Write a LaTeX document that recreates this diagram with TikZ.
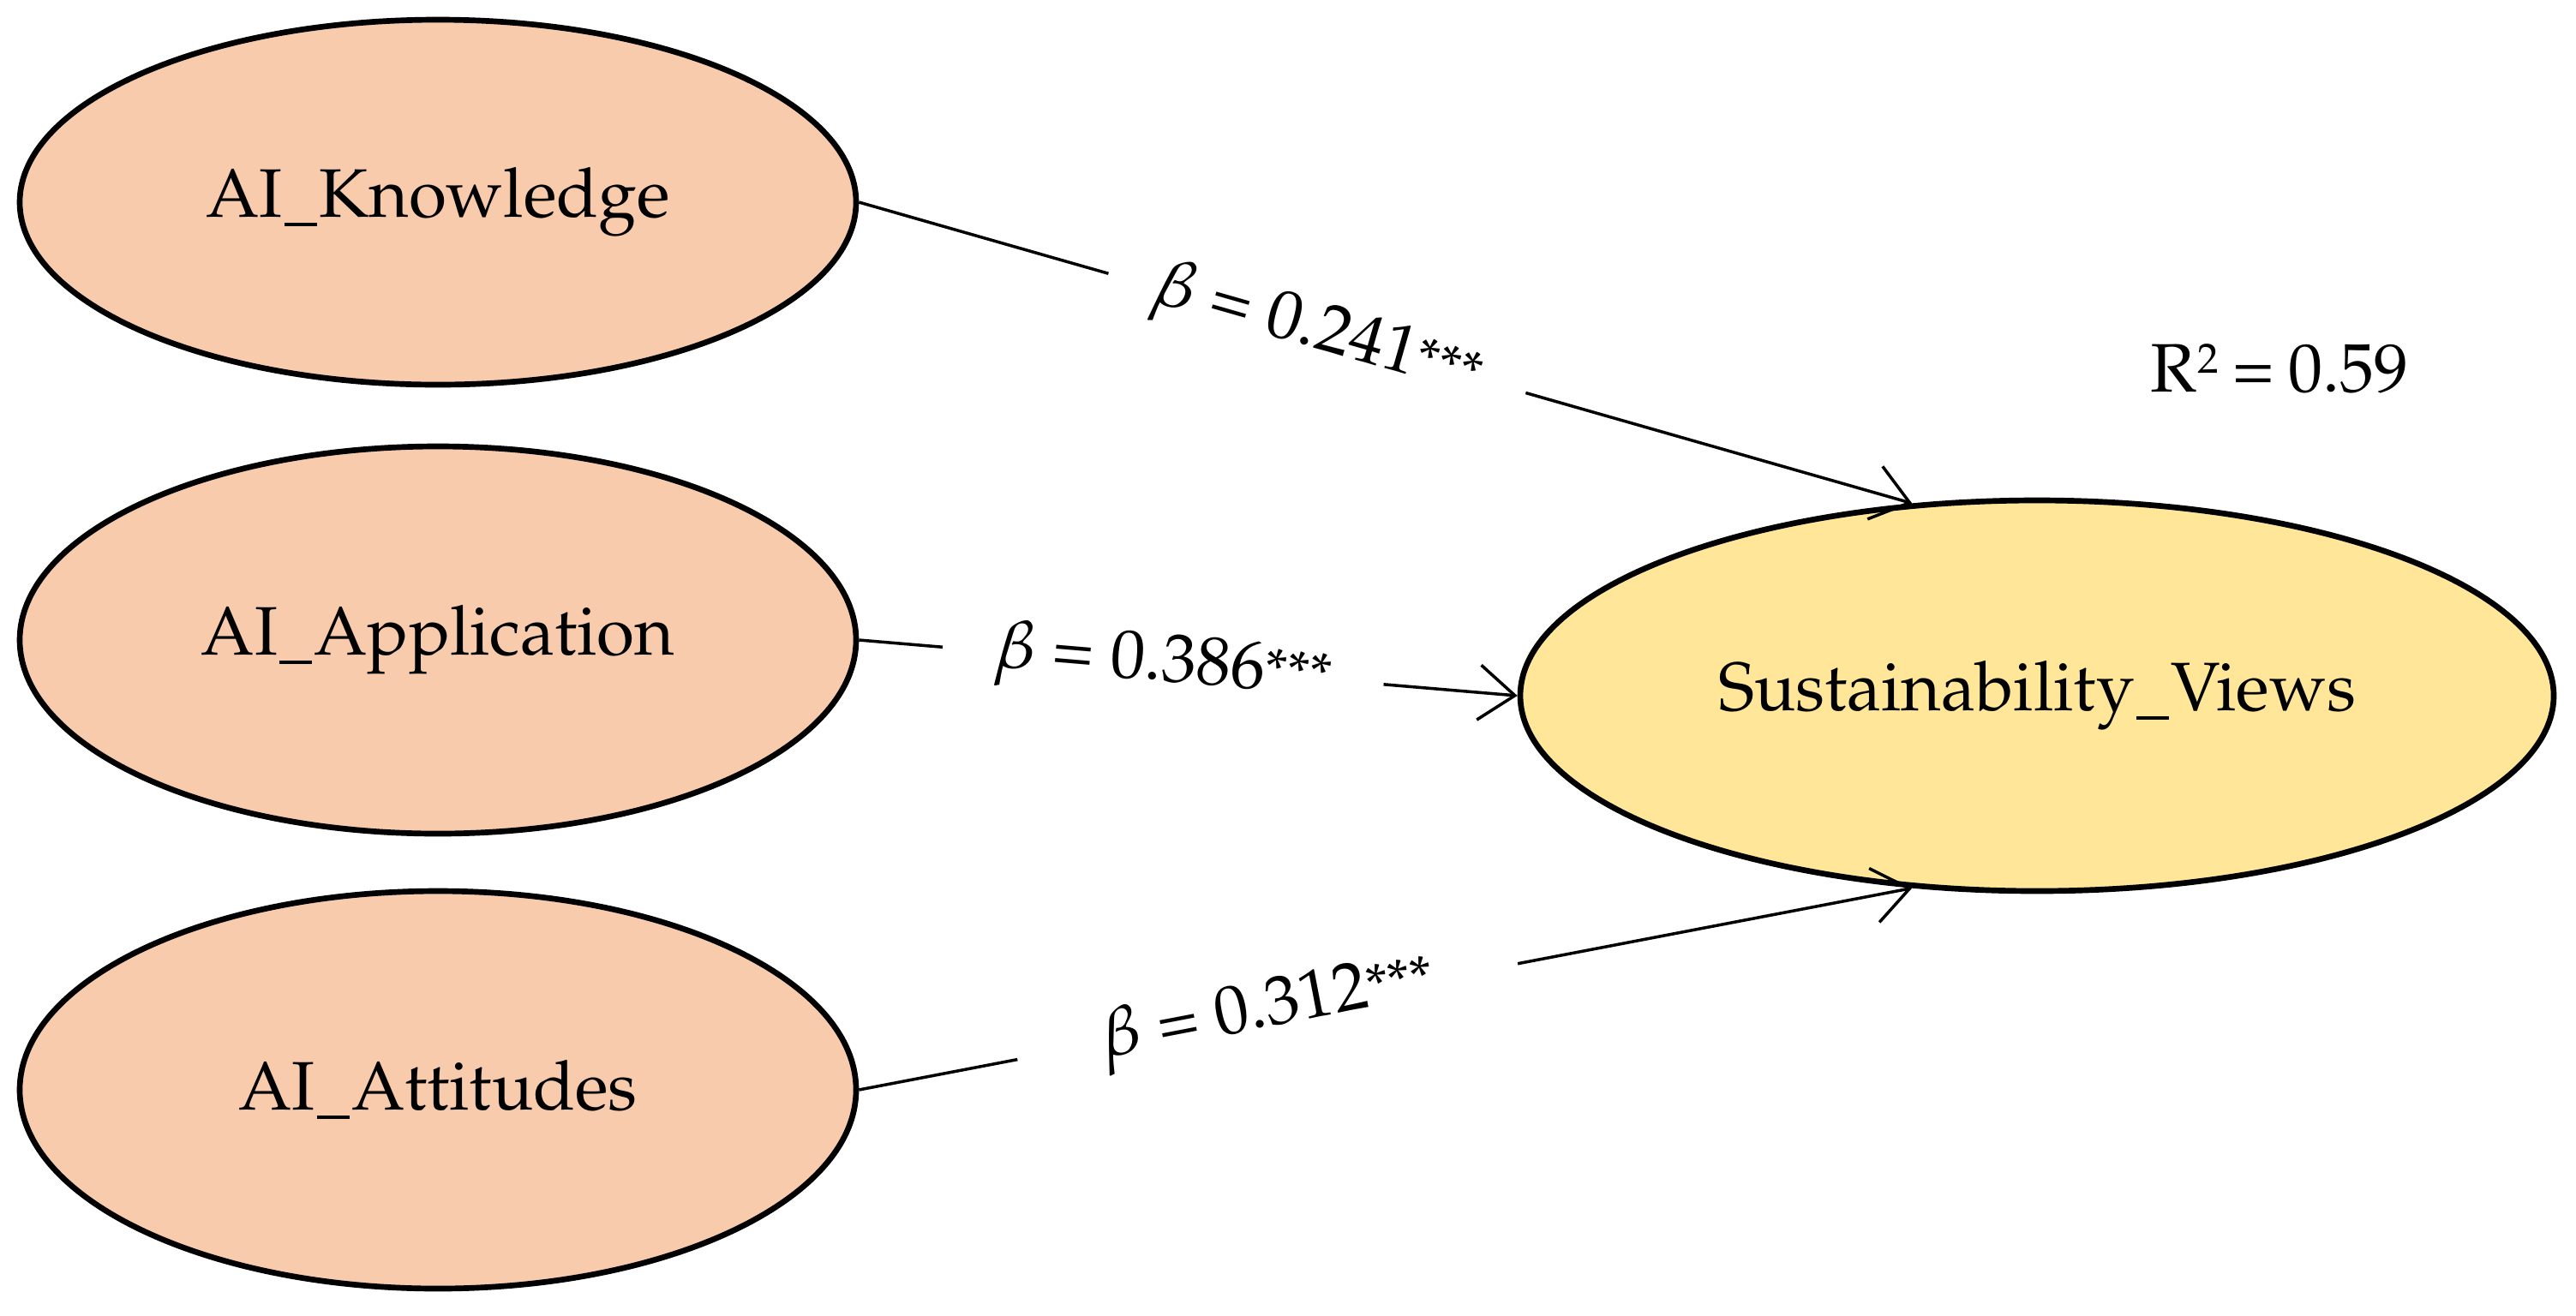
\documentclass[tikz,border=0pt]{standalone}
\usepackage[T1]{fontenc}
\usepackage{mathpazo}
\usetikzlibrary{shapes.geometric,arrows.meta}
\definecolor{peach}{HTML}{F8CBAD}
\definecolor{gold}{HTML}{FFE699}
\newcommand\myus{\kern0.03em\rule[-0.13em]{0.47em}{0.05em}\kern0.03em}
\newcommand\mystars{\raisebox{0.02em}{\fontsize{19}{19}\selectfont ***}}
\newcommand\mysqr{\kern0.02em\raisebox{0.27em}{\fontsize{14}{14}\selectfont 2}}
\begin{document}
\begin{tikzpicture}[
  txt/.style={font=\fontsize{22.8}{28}\selectfont},
  latent/.style={ellipse, draw=black, line width=1.9pt, inner sep=0pt, txt},
  srcvar/.style={latent, fill=peach, minimum width=9.76cm},
  link/.style={line width=1pt, -{Straight Barb[length=4.2mm,width=6.4mm]}},
  coef/.style={txt, sloped, fill=white, inner ysep=2pt}
]
\useasboundingbox (0,0) rectangle (30.06,-15.35);
\node[srcvar, minimum height=4.26cm] (know) at (5.11,-2.36) {AI\myus Knowledge};
\node[srcvar, minimum height=4.52cm] (appl) at (5.11,-7.47) {AI\myus Application};
\node[srcvar, minimum height=4.64cm] (att) at (5.11,-12.72) {AI\myus Attitudes};
\node[latent, fill=gold, minimum width=12.06cm, minimum height=4.56cm] (sv) at (23.77,-8.12) {Sustainability\myus Views};
\node[txt, anchor=base] (r2) at (26.60,-4.57) {R\mysqr\hspace{0.2em}=\hspace{0.2em}0.59};
\draw[link] (know.east) -- node[coef, pos=0.435, inner xsep=0.56cm] {$\beta$ = 0.241\mystars} (sv.123);
\draw[link] (appl.east) -- node[coef, pos=0.462, inner xsep=0.61cm] {$\beta$ = 0.386\mystars} (sv.west);
\draw[link] (att.east) -- node[coef, pos=0.388, inner xsep=1.0cm] {$\beta$ = 0.312\mystars} (sv.237);
\end{tikzpicture}
\end{document}
